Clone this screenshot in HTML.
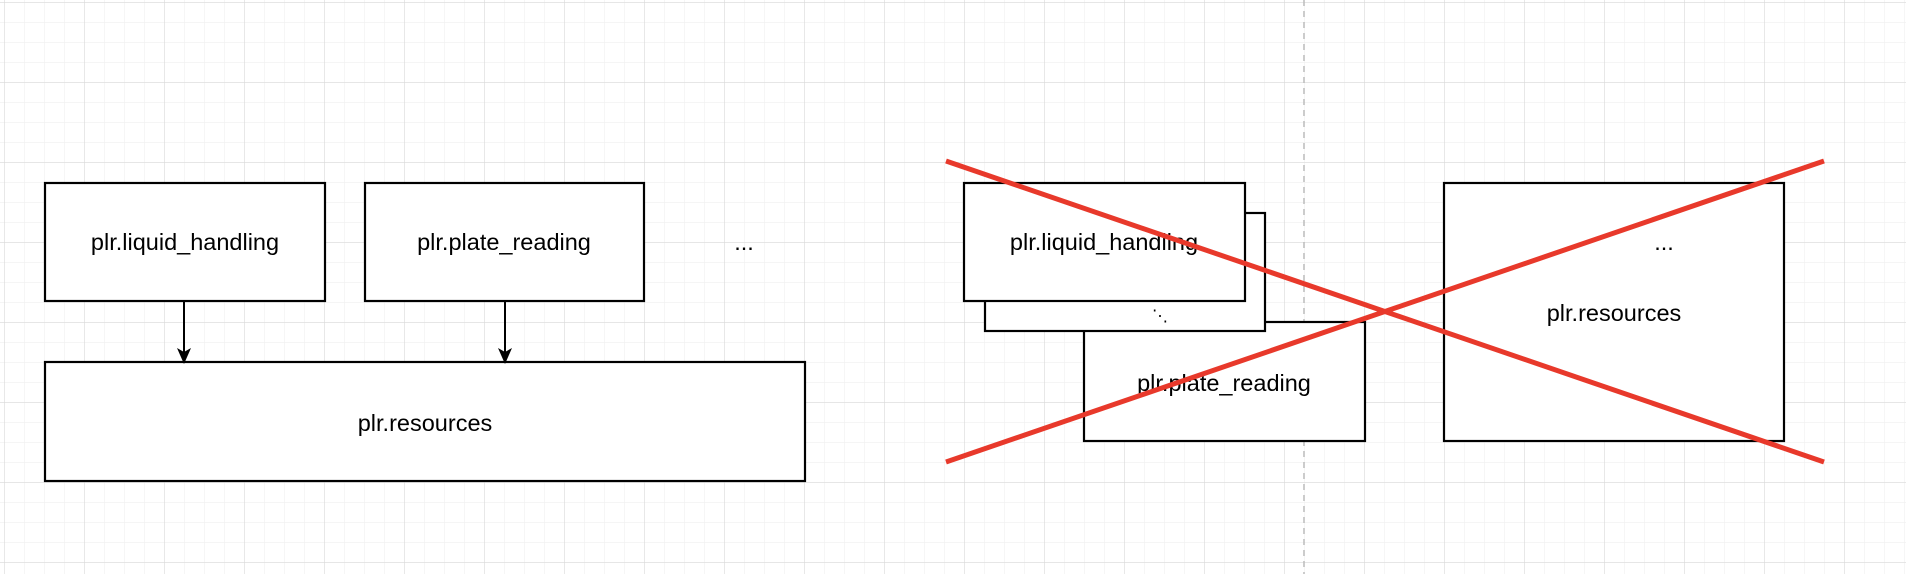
<!DOCTYPE html>
<html><head><style>
html,body{margin:0;padding:0;width:1906px;height:574px;overflow:hidden;background:#fff;}
</style></head><body>
<svg width="1906" height="574" viewBox="0 0 1906 574" xmlns="http://www.w3.org/2000/svg" font-family="Liberation Sans, Arial, sans-serif">
<defs>
<pattern id="minor" x="4" y="2" width="20" height="20" patternUnits="userSpaceOnUse">
<path d="M0 0H20M0 0V20" stroke="#efefef" stroke-width="1.2" fill="none"/>
</pattern>
<pattern id="major" x="4" y="2" width="80" height="80" patternUnits="userSpaceOnUse">
<path d="M0 0H80M0 0V80" stroke="#d9d9d9" stroke-width="1.2" fill="none"/>
</pattern>
</defs>
<rect width="1906" height="574" fill="url(#minor)"/>
<rect width="1906" height="574" fill="url(#major)"/>
<line x1="1304" y1="0" x2="1304" y2="574" stroke="#bbb" stroke-width="1.5" stroke-dasharray="6,5"/>
<g stroke="#000" stroke-width="2.2" fill="#fff">
<rect x="45" y="183" width="280" height="118"/>
<rect x="365" y="183" width="279" height="118"/>
<rect x="45" y="362" width="760" height="119"/>
<rect x="1084" y="322" width="281" height="119"/>
<rect x="985" y="213" width="280" height="118"/>
<rect x="964" y="183" width="281" height="118"/>
<rect x="1444" y="183" width="340" height="258"/>
</g>
<g stroke="#000" stroke-width="2">
<line x1="184" y1="301" x2="184" y2="352"/>
<line x1="505" y1="301" x2="505" y2="352"/>
</g>
<polygon points="177,348 184,364 191,348 184,352" fill="#000"/>
<polygon points="498,348 505,364 512,348 505,352" fill="#000"/>
<g font-size="23.5" fill="#000" text-anchor="middle">
<text x="185" y="250">plr.liquid_handling</text>
<text x="504" y="250">plr.plate_reading</text>
<text x="744" y="250">...</text>
<text x="425" y="431">plr.resources</text>
<text x="1104" y="250">plr.liquid_handling</text>
<text x="1160" y="321" font-size="16">⋱</text>
<text x="1224" y="391">plr.plate_reading</text>
<text x="1614" y="321">plr.resources</text>
<text x="1664" y="250">...</text>
</g>
<g stroke="#e8392b" stroke-width="5" stroke-linecap="butt">
<line x1="946" y1="161" x2="1824" y2="462"/>
<line x1="946" y1="462" x2="1824" y2="161"/>
</g>
</svg>
</body></html>
